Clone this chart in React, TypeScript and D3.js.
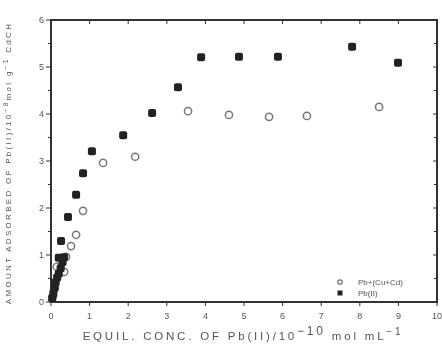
import * as d3 from "d3";

// Pb(II) alone (filled squares)
const pbX = [0.03, 0.06, 0.09, 0.12, 0.16, 0.2, 0.25, 0.3, 0.2, 0.34, 0.26, 0.44, 0.65, 0.83, 1.06, 1.87, 2.62, 3.29, 3.89, 4.87, 5.88, 7.8, 8.99];
const pbY = [0.08, 0.18, 0.3, 0.42, 0.52, 0.6, 0.72, 0.85, 0.94, 0.95, 1.3, 1.81, 2.28, 2.74, 3.21, 3.55, 4.02, 4.57, 5.21, 5.22, 5.22, 5.43, 5.09];

// Pb + (Cu + Cd) (open circles)
const mixX = [0.05, 0.1, 0.15, 0.34, 0.39, 0.52, 0.65, 0.83, 1.35, 2.18, 3.55, 4.61, 5.65, 6.63, 8.5];
const mixY = [0.12, 0.3, 0.75, 0.64, 0.96, 1.19, 1.43, 1.94, 2.96, 3.09, 4.06, 3.98, 3.94, 3.96, 4.15];

const xTicks = [0, 1, 2, 3, 4, 5, 6, 7, 8, 9, 10];
const yTicks = [0, 1, 2, 3, 4, 5, 6];
const yMinor = [0.5, 1.5, 2.5, 3.5, 4.5, 5.5];

const W = 442;
const H = 350;
const margin = { left: 51, right: 5, top: 20, bottom: 48 };

export default function App() {
  const x = d3.scaleLinear().domain([0, 10]).range([margin.left, W - margin.right]);
  const y = d3.scaleLinear().domain([0, 6]).range([H - margin.bottom, margin.top]);
  const ink = "#333";
  const font = "'Liberation Sans', Arial, sans-serif";

  return (
    <svg width={W} height={H} style={{ position: "absolute", left: 0, top: 0, background: "#fff" }}>
      <defs>
        <filter id="soft">
          <feGaussianBlur stdDeviation="0.5" />
        </filter>
      </defs>
      <g filter="url(#soft)">
        <rect x={x(0)} y={y(6)} width={x(10) - x(0)} height={y(0) - y(6)} fill="none" stroke={ink} strokeWidth={2} />
        {xTicks.map(t => (
          <g key={"xt" + t}>
            <line x1={x(t)} x2={x(t)} y1={y(0)} y2={y(0) + 4} stroke={ink} strokeWidth={1} />
            <line x1={x(t)} x2={x(t)} y1={y(6)} y2={y(6) + 4} stroke={ink} strokeWidth={1} />
            <text x={x(t)} y={y(0) + 17} textAnchor="middle" fontSize={9} fill="#555" fontFamily={font}>{t}</text>
          </g>
        ))}
        {yTicks.map(t => (
          <g key={"yt" + t}>
            <line x1={x(0) - 5} x2={x(0)} y1={y(t)} y2={y(t)} stroke={ink} strokeWidth={1} />
            <line x1={x(10) - 4} x2={x(10)} y1={y(t)} y2={y(t)} stroke={ink} strokeWidth={1} />
            <text x={x(0) - 7} y={y(t) + 3} textAnchor="end" fontSize={9} fill="#555" fontFamily={font}>{t}</text>
          </g>
        ))}
        {yMinor.map(t => (
          <g key={"ym" + t}>
            <line x1={x(0) - 3} x2={x(0)} y1={y(t)} y2={y(t)} stroke={ink} strokeWidth={1} />
            <line x1={x(10) - 3} x2={x(10)} y1={y(t)} y2={y(t)} stroke={ink} strokeWidth={1} />
          </g>
        ))}
        {mixX.map((v, i) => (
          <circle key={"m" + i} cx={x(v)} cy={y(mixY[i])} r={3.6} fill="none" stroke="#777" strokeWidth={1.5} />
        ))}
        {pbX.map((v, i) => (
          <rect key={"p" + i} x={x(v) - 4} y={y(pbY[i]) - 4} width={8} height={8} rx={2} fill="#222" />
        ))}
        {/* legend */}
        <circle cx={340} cy={282} r={2.2} fill="none" stroke="#777" strokeWidth={1.3} />
        <text x={358} y={285} fontSize={8} fill="#555" fontFamily={font}>Pb+(Cu+Cd)</text>
        <rect x={337.5} y={290.5} width={5} height={5} fill="#222" />
        <text x={358} y={296} fontSize={8} fill="#555" fontFamily={font}>Pb(II)</text>
        {/* axis titles */}
        <text x={243} y={340} textAnchor="middle" fontSize={11.5} fill="#555" fontFamily={font} letterSpacing={2.8}>
          EQUIL. CONC. OF Pb(II)/10<tspan dy={-5} fontSize={12}>−10</tspan><tspan dy={5}> mol mL</tspan><tspan dy={-5} fontSize={10}>−1</tspan>
        </text>
        <text transform={`translate(11,${y(3) + 2}) rotate(-90)`} textAnchor="middle" fontSize={8} fill="#555" fontFamily={font} letterSpacing={2.3}>
          AMOUNT ADSORBED OF Pb(II)/10<tspan dy={-3} fontSize={6.5}>−8</tspan><tspan dy={3}>mol g</tspan><tspan dy={-3} fontSize={6.5}>−1</tspan><tspan dy={3}> CdCH</tspan>
        </text>
      </g>
    </svg>
  );
}
